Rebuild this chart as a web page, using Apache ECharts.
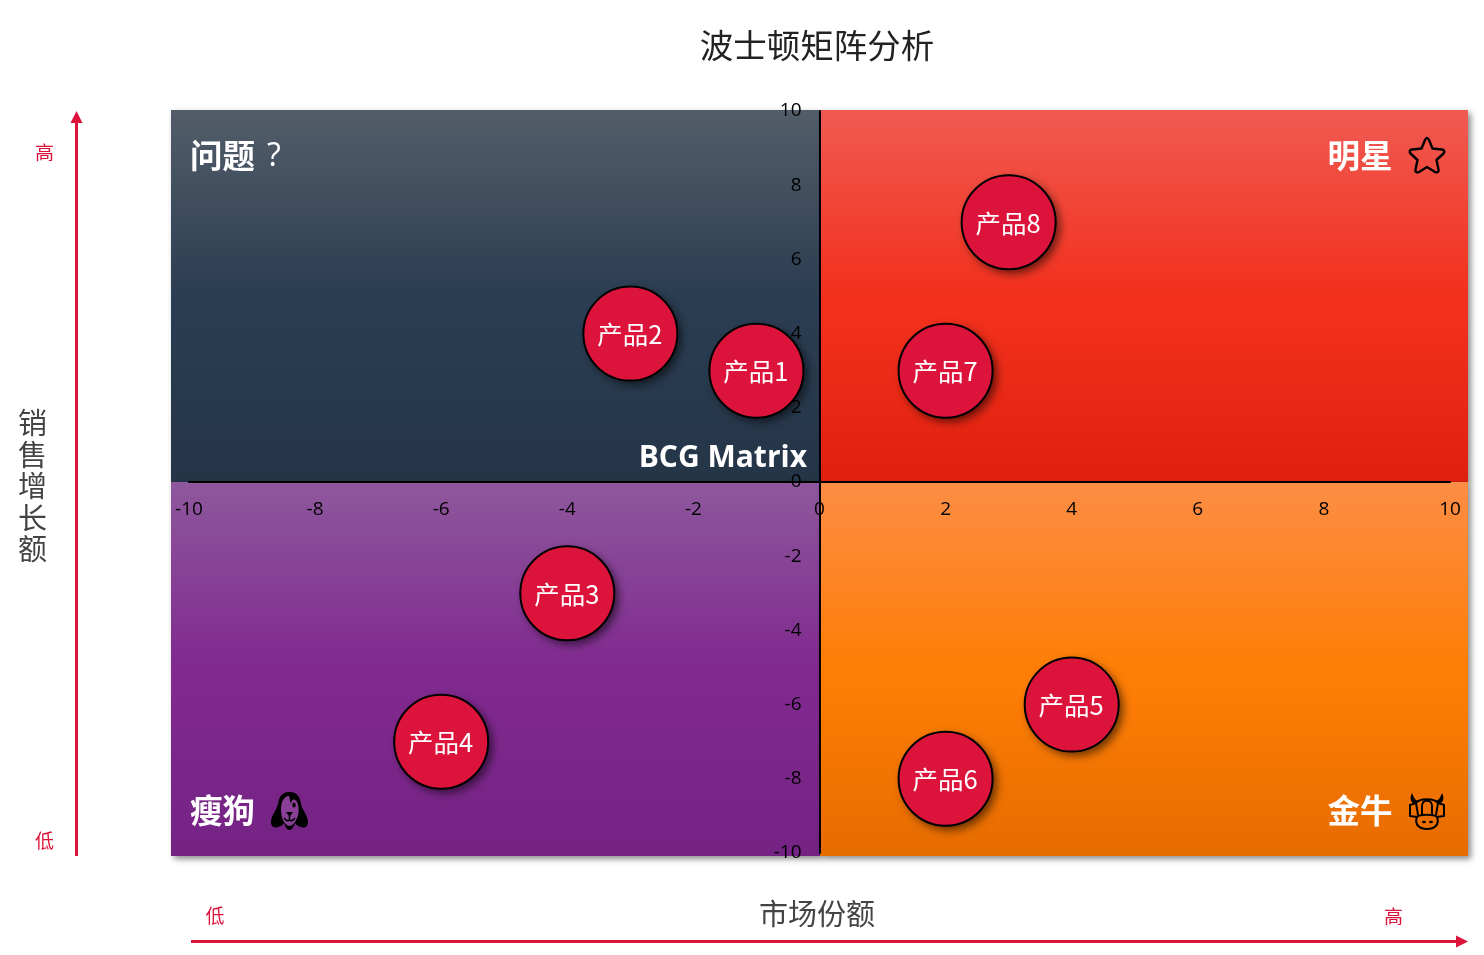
<!DOCTYPE html>
<html><head><meta charset="utf-8">
<style>html,body{margin:0;padding:0;background:#fff}#c{width:1484px;height:955px}</style>
<script src="https://cdn.jsdelivr.net/npm/echarts@6/dist/echarts.min.js"></script>
</head><body><div id="c"></div>
<script>
const productNames = ['产品1','产品2','产品3','产品4','产品5','产品6','产品7','产品8'];
const shareValues = [-1,-3,-4,-6,4,2,2,3];
const growthValues = [3,4,-3,-7,-6,-8,3,7];
const axisMin = -10, axisMax = 10, axisStep = 2;

const FONT = '"Noto Sans CJK SC","Noto Sans",sans-serif';
const LATIN = '"Open Sans","Noto Sans CJK SC",sans-serif';
const CRIMSON = '#dc143c';
const grad = (a,b,c)=>({type:'linear',x:0,y:0,x2:0,y2:1,colorStops:[
  {offset:0,color:a},{offset:0.5,color:b},{offset:0.55,color:b},{offset:1,color:c}]});
const quad = (x,y,w,h,fill)=>({type:'rect',z:-10,shape:{x,y,width:w,height:h},
  style:{fill,shadowBlur:6,shadowOffsetX:3,shadowOffsetY:3,shadowColor:'rgba(0,0,0,0.45)'},silent:true});
const txt = (x,y,text,font,fill,align,extra)=>({type:'text',z:5,x,y,silent:true,
  style:Object.assign({text,font,fill,align:align||'left',verticalAlign:'middle'},extra||{})});

const iconPaths = {
  starIcon:'M19 1 C20 1 20.5 2 21 3 L24.5 11.5 L34 12.5 C36.5 13 37 15 35.5 16.5 L28.5 23 L30.5 32.5 C31 35 29 36 27 35 L19 30 L11 35 C9 36 7 35 7.5 32.5 L9.5 23 L2.5 16.5 C1 15 1.5 13 4 12.5 L13.5 11.5 L17 3 C17.5 2 18 1 19 1 Z',
  dogHead:'M18.5 0 C10 0 8 6 7 12 C5.5 18 0 24 0 30 C0 35 4 36.5 7 35 C10 34 12 33 13 31 C14.5 35 16 38 18.5 38 C21 38 22.5 35 24 31 C25 33 27 34 30 35 C33 36.5 37 35 37 30 C37 24 31.5 18 30 12 C29 6 27 0 18.5 0 Z',
  dogFace:'M10 17 C10 10 13 4 18 4 C19 7 19 10 20 12 C20 6 25 6 27 12 C28 17 28 22 26 26 C24 31 21 34 18.5 34 C16 34 13 31 11.5 27 C10.5 24 10 21 10 17 Z',
  dogMark:'M21.3 13 a1.7 2.6 0 1 0 3.4 0 a1.7 2.6 0 1 0 -3.4 0 Z M15 20 L22 20 L18.5 25 Z',
  dogMouth:'M18.5 24 L18.5 28 M13 26 Q16 30 18.5 28 Q21 30 24 26',
  cowFill:'M4 1 C1 7 3 11 8 12 L10 9 C7 8 5.5 5 4 1 Z M34 1 C37 7 35 11 30 12 L28 9 C31 8 32.5 5 34 1 Z M14 30 a2 1.2 0 1 0 4 0 a2 1.2 0 1 0 -4 0 Z M21 30 a2 1.2 0 1 0 4 0 a2 1.2 0 1 0 -4 0 Z',
  cowLine:'M8 11 C12 6 26 6 30 11 L36 13 L36 24 L29 25 M8 11 L2 13 L2 24 L9 25 M8 11 L10 23 M30 11 L28 23 M14 24 L14 14 C14 7 24 7 24 14 L24 24 M9 25 C6 33 12 37 19 37 C26 37 32 33 29 25 C27 22 11 22 9 25 Z'
};
Object.keys(iconPaths).forEach(k=>echarts.graphic.registerShape(k,echarts.graphic.extendPath(iconPaths[k],{})));
const icon = (type,x,y,style)=>({type,z:5,silent:true,x,y,style});
const points = productNames.map((n,i)=>({name:n,value:[shareValues[i],growthValues[i]]}));

const chart = echarts.init(document.getElementById('c'));
chart.setOption({
  animation:false,
  title:{text:'波士顿矩阵分析',left:812,top:24,textAlign:'center',
    textStyle:{fontFamily:FONT,fontSize:33.5,fontWeight:'normal',color:'#222'}},
  grid:{left:189,right:34,top:111,bottom:102},
  xAxis:{type:'value',position:'bottom',offset:-371,min:axisMin,max:axisMax,interval:axisStep,splitLine:{show:false},
    axisTick:{show:false},axisLine:{onZero:false,lineStyle:{color:'#000',width:2}},
    axisLabel:{margin:18,fontSize:19,color:'#000',fontFamily:LATIN}},
  yAxis:{type:'value',position:'left',offset:-630.5,min:axisMin,max:axisMax,interval:axisStep,splitLine:{show:false},
    axisTick:{show:false},axisLine:{onZero:false,lineStyle:{color:'#000',width:2}},
    axisLabel:{margin:18,fontSize:19,color:'#000',fontFamily:LATIN,padding:[2,0,0,0]}},
  series:[
   {type:'scatter',symbol:'circle',symbolSize:95,z:3,silent:true,data:points,
    itemStyle:{color:'#000',opacity:1,shadowBlur:8,shadowOffsetX:4,shadowOffsetY:4,shadowColor:'rgba(0,0,0,0.55)'}},
   {type:'scatter',symbol:'circle',symbolSize:94,z:4,data:points,
    itemStyle:{color:CRIMSON,borderColor:'#000',borderWidth:2,opacity:1},
    label:{show:true,position:'inside',offset:[-0.5,1],formatter:p=>p.name,color:'#fff',fontSize:25.5,fontFamily:FONT}}],
  graphic:{elements:[
    quad(171,110,649,372,grad('#535d69','#2b3d52','#243548')),
    quad(820,110,648,372,grad('#f05a52','#f2301c','#e0200e')),
    quad(171,482,649,374,grad('#8e589d','#80298f','#742383')),
    quad(820,482,648,374,grad('#fc8d45','#fe7d05','#e66b00')),
    txt(190,156,'问题',`bold 32.5px ${FONT}`,'#fff'),
    txt(267,157,'?',`32px ${LATIN}`,'#fff'),
    txt(1392.5,156,'明星',`bold 32.5px ${FONT}`,'#fff','right'),
    txt(190,811,'瘦狗',`bold 32.5px ${FONT}`,'#fff'),
    txt(1392.5,811,'金牛',`bold 32.5px ${FONT}`,'#fff','right'),
    txt(807,458,'BCG Matrix',`bold 30px ${LATIN}`,'#fff','right'),
    icon('starIcon',1408,137,{fill:'none',stroke:'#000',lineWidth:2.4,lineJoin:'round'}),
    icon('dogHead',271,792,{fill:'#000'}),
    icon('dogFace',271,792,{fill:'#8a3f98'}),
    icon('dogMark',271,792,{fill:'#000'}),
    icon('dogMouth',271,792,{fill:'none',stroke:'#000',lineWidth:1.6}),
    icon('cowFill',1408,792,{fill:'#000'}),
    icon('cowLine',1408,792,{fill:'none',stroke:'#000',lineWidth:2}),
    txt(817,913.5,'市场份额',`29px ${FONT}`,'#444','center'),
    txt(32.5,486,'销\n售\n增\n长\n额',`29px ${FONT}`,'#444','center',{lineHeight:31.5}),
    txt(44.5,153,'高',`19px ${FONT}`,CRIMSON,'center'),
    txt(44.5,841,'低',`19px ${FONT}`,CRIMSON,'center'),
    txt(215,916,'低',`19px ${FONT}`,CRIMSON,'center'),
    txt(1393.5,917,'高',`19px ${FONT}`,CRIMSON,'center'),
    {type:'line',z:5,silent:true,shape:{x1:76.5,y1:856,x2:76.5,y2:120},style:{stroke:CRIMSON,lineWidth:3}},
    {type:'polygon',z:5,silent:true,shape:{points:[[76.5,111],[70.5,123],[82.5,123]]},style:{fill:CRIMSON}},
    {type:'line',z:5,silent:true,shape:{x1:191,y1:941.5,x2:1458,y2:941.5},style:{stroke:CRIMSON,lineWidth:3}},
    {type:'polygon',z:5,silent:true,shape:{points:[[1468,941.5],[1456,935.5],[1456,947.5]]},style:{fill:CRIMSON}}
  ]}
});
</script></body></html>
